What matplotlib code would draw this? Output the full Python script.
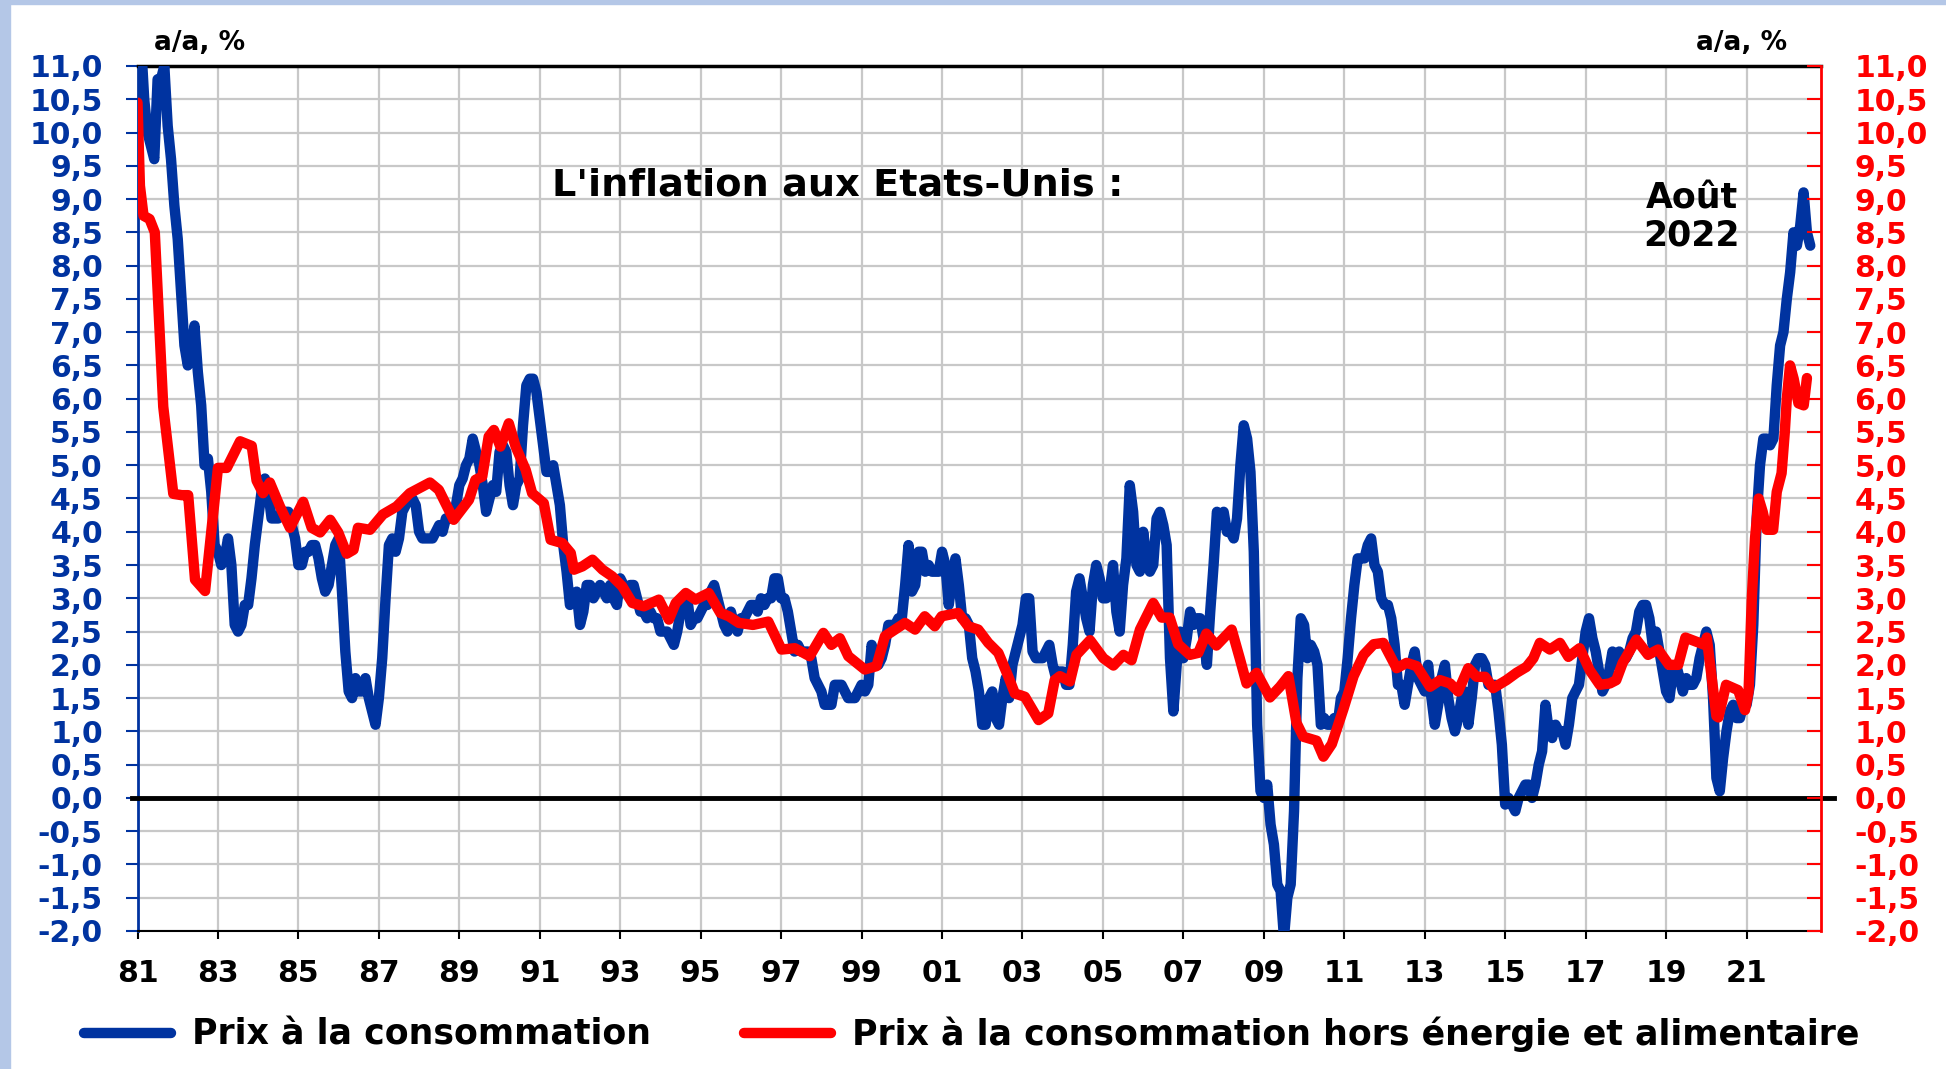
import numpy as np
import matplotlib.pyplot as plt
from matplotlib.patches import Rectangle

BLUE = '#0033A0'
RED = '#FF0000'

# Prix à la consommation, glissement annuel en %, mensuel depuis janvier 1981
cpi_yoy = [
    11.8, 11.4, 10.5, 10.0, 9.8, 9.6, 10.8, 10.8, 11.0, 10.1, 9.6, 8.9,   # 1981
    8.4, 7.6, 6.8, 6.5, 6.7, 7.1, 6.4, 5.9, 5.0, 5.1, 4.6, 3.8,          # 1982
    3.7, 3.5, 3.6, 3.9, 3.5, 2.6, 2.5, 2.6, 2.9, 2.9, 3.3, 3.8,          # 1983
    4.2, 4.6, 4.8, 4.6, 4.2, 4.2, 4.2, 4.3, 4.3, 4.3, 4.1, 3.9,          # 1984
    3.5, 3.5, 3.7, 3.7, 3.8, 3.8, 3.6, 3.3, 3.1, 3.2, 3.5, 3.8,          # 1985
    3.9, 3.1, 2.2, 1.6, 1.5, 1.8, 1.6, 1.6, 1.8, 1.5, 1.3, 1.1,          # 1986
    1.5, 2.1, 3.0, 3.8, 3.9, 3.7, 3.9, 4.3, 4.4, 4.5, 4.5, 4.4,          # 1987
    4.0, 3.9, 3.9, 3.9, 3.9, 4.0, 4.1, 4.0, 4.2, 4.2, 4.2, 4.4,          # 1988
    4.7, 4.8, 5.0, 5.1, 5.4, 5.2, 5.0, 4.7, 4.3, 4.5, 4.7, 4.6,          # 1989
    5.2, 5.3, 5.2, 4.7, 4.4, 4.7, 4.8, 5.6, 6.2, 6.3, 6.3, 6.1,          # 1990
    5.7, 5.3, 4.9, 4.9, 5.0, 4.7, 4.4, 3.8, 3.4, 2.9, 3.0, 3.1,          # 1991
    2.6, 2.8, 3.2, 3.2, 3.0, 3.1, 3.2, 3.1, 3.0, 3.2, 3.0, 2.9,          # 1992
    3.3, 3.2, 3.1, 3.2, 3.2, 3.0, 2.8, 2.8, 2.7, 2.8, 2.7, 2.7,          # 1993
    2.5, 2.5, 2.5, 2.4, 2.3, 2.5, 2.8, 2.9, 3.0, 2.6, 2.7, 2.7,          # 1994
    2.8, 2.9, 2.9, 3.1, 3.2, 3.0, 2.8, 2.6, 2.5, 2.8, 2.6, 2.5,          # 1995
    2.7, 2.7, 2.8, 2.9, 2.9, 2.8, 3.0, 2.9, 3.0, 3.0, 3.3, 3.3,          # 1996
    3.0, 3.0, 2.8, 2.5, 2.2, 2.3, 2.2, 2.2, 2.2, 2.1, 1.8, 1.7,          # 1997
    1.6, 1.4, 1.4, 1.4, 1.7, 1.7, 1.7, 1.6, 1.5, 1.5, 1.5, 1.6,          # 1998
    1.7, 1.6, 1.7, 2.3, 2.1, 2.0, 2.1, 2.3, 2.6, 2.6, 2.6, 2.7,          # 1999
    2.7, 3.2, 3.8, 3.1, 3.2, 3.7, 3.7, 3.4, 3.5, 3.4, 3.4, 3.4,          # 2000
    3.7, 3.5, 2.9, 3.3, 3.6, 3.2, 2.7, 2.7, 2.6, 2.1, 1.9, 1.6,          # 2001
    1.1, 1.1, 1.5, 1.6, 1.2, 1.1, 1.5, 1.8, 1.5, 2.0, 2.2, 2.4,          # 2002
    2.6, 3.0, 3.0, 2.2, 2.1, 2.1, 2.1, 2.2, 2.3, 2.0, 1.8, 1.9,          # 2003
    1.9, 1.7, 1.7, 2.3, 3.1, 3.3, 3.0, 2.7, 2.5, 3.2, 3.5, 3.3,          # 2004
    3.0, 3.0, 3.1, 3.5, 2.8, 2.5, 3.2, 3.6, 4.7, 4.3, 3.5, 3.4,          # 2005
    4.0, 3.6, 3.4, 3.5, 4.2, 4.3, 4.1, 3.8, 2.1, 1.3, 2.0, 2.5,          # 2006
    2.1, 2.4, 2.8, 2.6, 2.7, 2.7, 2.4, 2.0, 2.8, 3.5, 4.3, 4.1,          # 2007
    4.3, 4.0, 4.0, 3.9, 4.2, 5.0, 5.6, 5.4, 4.9, 3.7, 1.1, 0.1,          # 2008
    0.0, 0.2, -0.4, -0.7, -1.3, -1.4, -2.1, -1.5, -1.3, -0.2, 1.8, 2.7,  # 2009
    2.6, 2.1, 2.3, 2.2, 2.0, 1.1, 1.2, 1.1, 1.1, 1.2, 1.1, 1.5,          # 2010
    1.6, 2.1, 2.7, 3.2, 3.6, 3.6, 3.6, 3.8, 3.9, 3.5, 3.4, 3.0,          # 2011
    2.9, 2.9, 2.7, 2.3, 1.7, 1.7, 1.4, 1.7, 2.0, 2.2, 1.8, 1.7,          # 2012
    1.6, 2.0, 1.5, 1.1, 1.4, 1.8, 2.0, 1.5, 1.2, 1.0, 1.2, 1.5,          # 2013
    1.6, 1.1, 1.5, 2.0, 2.1, 2.1, 2.0, 1.7, 1.7, 1.7, 1.3, 0.8,          # 2014
    -0.1, 0.0, -0.1, -0.2, 0.0, 0.1, 0.2, 0.2, 0.0, 0.2, 0.5, 0.7,       # 2015
    1.4, 1.0, 0.9, 1.1, 1.0, 1.0, 0.8, 1.1, 1.5, 1.6, 1.7, 2.1,          # 2016
    2.5, 2.7, 2.4, 2.2, 1.9, 1.6, 1.7, 1.9, 2.2, 2.0, 2.2, 2.1,          # 2017
    2.1, 2.2, 2.4, 2.5, 2.8, 2.9, 2.9, 2.7, 2.3, 2.5, 2.2, 1.9,          # 2018
    1.6, 1.5, 1.9, 2.0, 1.8, 1.6, 1.8, 1.7, 1.7, 1.8, 2.1, 2.3,          # 2019
    2.5, 2.3, 1.5, 0.3, 0.1, 0.6, 1.0, 1.3, 1.4, 1.2, 1.2, 1.4,          # 2020
    1.4, 1.7, 2.6, 4.2, 5.0, 5.4, 5.4, 5.3, 5.4, 6.2, 6.8, 7.0,          # 2021
    7.5, 7.9, 8.5, 8.3, 8.6, 9.1, 8.5, 8.3,                              # 2022
]
cpi_dates = 1981 + np.arange(len(cpi_yoy)) / 12

# Prix hors énergie et alimentaire
core_dates = [
    1981.0, 1981.06, 1981.15, 1981.3, 1981.43, 1981.64, 1981.89, 1982.1, 1982.26,
    1982.43, 1982.68, 1983.0, 1983.22, 1983.55, 1983.84, 1983.96, 1984.12, 1984.29,
    1984.54, 1984.79, 1985.12, 1985.33, 1985.54, 1985.79, 1985.99, 1986.2, 1986.37,
    1986.48, 1986.78, 1987.1, 1987.44, 1987.77, 1988.27, 1988.49, 1988.86, 1989.24,
    1989.4, 1989.57, 1989.73, 1989.86, 1990.02, 1990.23, 1990.4, 1990.65, 1990.81,
    1991.1, 1991.27, 1991.56, 1991.77, 1991.85, 1992.06, 1992.31, 1992.56, 1992.8,
    1993.05, 1993.3, 1993.59, 1993.96, 1994.21, 1994.38, 1994.63, 1994.87, 1995.2,
    1995.49, 1995.7, 1995.95, 1996.3, 1996.68, 1997.01, 1997.34, 1997.71, 1998.05,
    1998.25, 1998.46, 1998.67, 1999.08, 1999.37, 1999.58, 2000.08, 2000.33, 2000.57,
    2000.82, 2000.99, 2001.4, 2001.65, 2001.9, 2002.15, 2002.4, 2002.65, 2002.81,
    2003.06, 2003.4, 2003.64, 2003.8, 2003.93, 2004.18, 2004.34, 2004.68, 2005.01,
    2005.26, 2005.51, 2005.71, 2005.92, 2006.25, 2006.46, 2006.66, 2006.87, 2007.16,
    2007.37, 2007.57, 2007.82, 2008.2, 2008.4, 2008.57, 2008.82, 2009.15, 2009.4,
    2009.61, 2009.81, 2009.98, 2010.31, 2010.48, 2010.69, 2010.98, 2011.23, 2011.48,
    2011.73, 2011.97, 2012.3, 2012.55, 2012.8, 2013.13, 2013.38, 2013.63, 2013.83,
    2014.08, 2014.29, 2014.5, 2014.7, 2015.03, 2015.28, 2015.53, 2015.7, 2015.86,
    2016.11, 2016.36, 2016.57, 2016.85, 2017.1, 2017.35, 2017.6, 2017.76, 2017.92,
    2018.26, 2018.55, 2018.8, 2019.07, 2019.3, 2019.48, 2019.96, 2020.01, 2020.25,
    2020.3, 2020.49, 2020.79, 2020.96, 2021.05, 2021.13, 2021.21, 2021.3, 2021.4,
    2021.5, 2021.66, 2021.75, 2021.87, 2021.95, 2022.0, 2022.08, 2022.17, 2022.29,
    2022.42, 2022.5,
]
core_yoy = [
    10.45, 9.2, 8.75, 8.7, 8.5, 5.88, 4.57, 4.55, 4.55,
    3.28, 3.11, 4.96, 4.96, 5.36, 5.29, 4.77, 4.58, 4.74,
    4.38, 4.06, 4.45, 4.06, 3.99, 4.18, 3.99, 3.67, 3.73,
    4.06, 4.03, 4.26, 4.38, 4.58, 4.74, 4.63, 4.18, 4.48,
    4.78, 4.83, 5.43, 5.53, 5.28, 5.63, 5.28, 4.93, 4.58,
    4.43, 3.88, 3.83, 3.68, 3.43, 3.48, 3.58, 3.43, 3.33,
    3.18, 2.93, 2.88, 2.98, 2.68, 2.93, 3.08, 2.98, 3.08,
    2.78, 2.73, 2.63, 2.6, 2.65, 2.23, 2.25, 2.13, 2.48,
    2.30, 2.40, 2.13, 1.93, 1.98, 2.43, 2.63, 2.53, 2.73,
    2.58, 2.73, 2.78, 2.58, 2.53, 2.33, 2.18, 1.82, 1.57,
    1.52, 1.17, 1.27, 1.77, 1.83, 1.75, 2.15, 2.37, 2.10,
    1.99, 2.15, 2.07, 2.53, 2.93, 2.71, 2.71, 2.31, 2.15,
    2.18, 2.47, 2.29, 2.53, 2.10, 1.72, 1.88, 1.51, 1.67,
    1.83, 1.13, 0.92, 0.86, 0.62, 0.81, 1.34, 1.83, 2.15,
    2.31, 2.33, 1.95, 2.03, 1.98, 1.67, 1.77, 1.72, 1.60,
    1.95, 1.82, 1.82, 1.65, 1.77, 1.88, 1.97, 2.10, 2.33,
    2.23, 2.33, 2.12, 2.25, 1.92, 1.70, 1.72, 1.77, 2.03,
    2.38, 2.15, 2.23, 2.0, 2.0, 2.41, 2.30, 2.41, 1.23,
    1.21, 1.70, 1.62, 1.32, 1.6, 3.0, 3.9, 4.5, 4.3,
    4.03, 4.03, 4.6, 4.88, 5.5, 6.0, 6.5, 6.3, 5.93,
    5.9, 6.31,
]

year_ticks = list(range(1981, 2022, 2))
year_labels = [f"{y % 100:02d}" for y in year_ticks]
y_ticks = np.arange(-2, 11.01, 0.5)
y_labels = [f"{v:.1f}".replace('.', ',') for v in y_ticks]

W, H = 1946, 1069
fig = plt.figure(figsize=(W / 100, H / 100), dpi=100)
ax = fig.add_axes([137.5 / W, 1 - 931 / H, (1821 - 137.5) / W, (931 - 66) / H])
ax2 = ax.twinx()

l1, = ax.plot(cpi_dates, cpi_yoy, color=BLUE, lw=7.5,
              solid_joinstyle='round', solid_capstyle='round', zorder=3)
ax.axhline(0, xmin=-0.003, xmax=1.008, color='black', lw=3.5, zorder=4, clip_on=False)
l2, = ax2.plot(core_dates, core_yoy, color=RED, lw=7.5,
               solid_joinstyle='round', solid_capstyle='round', zorder=3)

ax.set_xlim(1981, 2022.85)
for a in (ax, ax2):
    a.set_ylim(-2, 11)
    a.set_yticks(y_ticks)

ax.set_yticklabels(y_labels, color=BLUE, fontsize=21.5, fontweight='bold')
ax2.set_yticklabels(y_labels, color=RED, fontsize=21.5, fontweight='bold')
ax.set_xticks(year_ticks)
ax.set_xticklabels(year_labels, fontsize=21.5, fontweight='bold')

ax.tick_params(axis='y', direction='out', length=9, width=1.5, color=BLUE, pad=16)
ax2.tick_params(axis='y', direction='in', length=10, width=1.5, color=RED, pad=24)
ax.tick_params(axis='x', direction='out', length=6, width=1.5, pad=14)

ax.grid(True, color='#C8C8C8', lw=1.6)
ax.set_axisbelow(True)

ax.spines['left'].set_color(BLUE)
ax.spines['left'].set_linewidth(2)
ax.spines['right'].set_visible(False)
ax.spines['top'].set_linewidth(2.5)
ax.spines['bottom'].set_linewidth(1.5)
for s in ('left', 'top', 'bottom'):
    ax2.spines[s].set_visible(False)
ax2.spines['right'].set_color(RED)
ax2.spines['right'].set_linewidth(2)

fig.text(552 / W, 1 - 186 / H, "L'inflation aux Etats-Unis :", fontsize=27.5,
         fontweight='bold', ha='left', va='center')
fig.text(1692 / W, 1 - 217 / H, "Août\n2022", fontsize=25, fontweight='bold',
         ha='center', va='center', multialignment='center', linespacing=1.1)
fig.text(154 / W, 1 - 43 / H, "a/a, %", fontsize=19, fontweight='bold', ha='left', va='center')
fig.text(1696 / W, 1 - 43 / H, "a/a, %", fontsize=19, fontweight='bold', ha='left', va='center')

fig.legend([l1, l2], ["Prix à la consommation", "Prix à la consommation hors énergie et alimentaire"],
           loc='center left', bbox_to_anchor=(84 / W, 1 - 1034 / H), ncol=2, frameon=False,
           prop=dict(size=25, weight='bold'), handlelength=2.5, handletextpad=0.6,
           columnspacing=2.7, borderpad=0, borderaxespad=0)

fig.add_artist(Rectangle((0, 0), 10 / W, 1, transform=fig.transFigure,
                         color='#B4C7E7', zorder=0))
fig.add_artist(Rectangle((0, 1 - 4 / H), 1, 4 / H, transform=fig.transFigure,
                         color='#B4C7E7', zorder=0))

fig.savefig("out.png", dpi=100)
